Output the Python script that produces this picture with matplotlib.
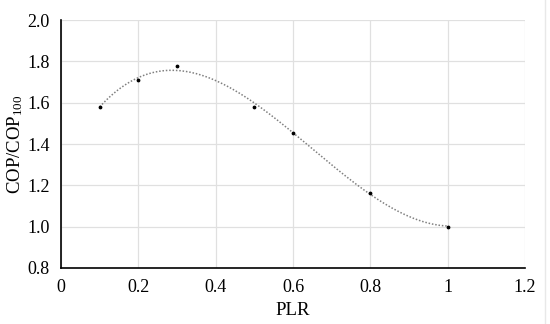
import numpy as np
import matplotlib
matplotlib.use('Agg')
import matplotlib.pyplot as plt

plr = [0.1, 0.2, 0.3, 0.5, 0.6, 0.8, 1.0]
cop_ratio = [1.58, 1.71, 1.78, 1.58, 1.455, 1.165, 1.0]
x_ticks = [0, 0.2, 0.4, 0.6, 0.8, 1.0, 1.2]
x_labels = ['0', '0.2', '0.4', '0.6', '0.8', '1', '1.2']
y_ticks = [0.8, 1.0, 1.2, 1.4, 1.6, 1.8, 2.0]

plt.rcParams['font.family'] = ['Liberation Serif', 'DejaVu Serif']
plt.rcParams['mathtext.fontset'] = 'custom'
plt.rcParams['mathtext.rm'] = 'Liberation Serif'
plt.rcParams['mathtext.it'] = 'Liberation Serif:italic'

fig = plt.figure(figsize=(5.5, 3.24), dpi=100)
ax = fig.add_axes([0.111, 0.173, 0.8435, 0.765])

# polynomial trendline (3rd order), like the spreadsheet one
coef = np.polyfit(plr, cop_ratio, 3)
xs = np.linspace(min(plr), max(plr), 200)
ax.plot(xs, np.polyval(coef, xs), color='#808080', lw=1.1, ls=(0, (1, 1.2)))
ax.scatter(plr, cop_ratio, s=3, color='black', zorder=3)

ax.set_xlim(0, 1.2)
ax.set_ylim(0.8, 2.0)
ax.set_xticks(x_ticks)
ax.set_xticklabels(x_labels)
ax.set_yticks(y_ticks)
ax.set_yticklabels(['%.1f' % v for v in y_ticks])
ax.grid(True, color='#e0e0e0', lw=0.9)
ax.set_axisbelow(True)
for s in ['top', 'right']:
    ax.spines[s].set_visible(False)
for s in ['left', 'bottom']:
    ax.spines[s].set_linewidth(1.2)
ax.tick_params(length=0, labelsize=13, pad=8)
ax.set_xlabel('PLR', fontsize=13.5, labelpad=4)
ax.set_ylabel('COP/COP$_{100}$', fontsize=13.5, labelpad=2)

fig.add_artist(plt.Line2D([545/550, 545/550], [0, 1], color='#e8e8e8', lw=1))

fig.savefig('out.png', dpi=100)
